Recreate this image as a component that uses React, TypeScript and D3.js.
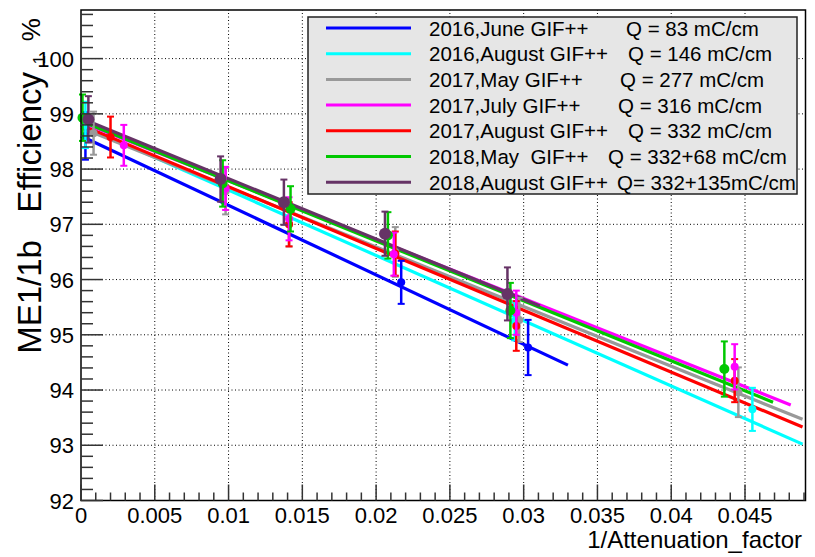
import React from "react";
import { scaleLinear, line, range } from "d3";

// series names and charges (legend)
const seriesNames = [
  "2016,June GIF++",
  "2016,August GIF++",
  "2017,May GIF++",
  "2017,July GIF++",
  "2017,August GIF++",
  "2018,May  GIF++",
  "2018,August GIF++",
];
const seriesCharges = [
  "Q = 83 mC/cm",
  "Q = 146 mC/cm",
  "Q = 277 mC/cm",
  "Q = 316 mC/cm",
  "Q = 332 mC/cm",
  "Q = 332+68 mC/cm",
  "Q= 332+135mC/cm",
];

// measured points: [1/attenuation, efficiency, error]
const june2016 = [[0.0003, 98.6, 0.43], [0.0217, 95.95, 0.39], [0.0303, 94.77, 0.5]];
const aug2016 = [[0.0003, 98.8, 0.42], [0.0294, 95.25, 0.35], [0.0455, 93.65, 0.39]];
const may2017 = [[0.00085, 98.65, 0.39], [0.0098, 97.6, 0.42], [0.0141, 97.0, 0.4], [0.0213, 96.5, 0.45], [0.0297, 95.27, 0.4], [0.04455, 93.96, 0.45]];
const july2017 = [[0.0029, 98.43, 0.37], [0.0098, 97.65, 0.39], [0.0141, 97.1, 0.39], [0.0212, 96.46, 0.39], [0.0295, 95.4, 0.4], [0.0443, 94.42, 0.41]];
const aug2017 = [[0.002, 98.58, 0.37], [0.0141, 97.0, 0.4], [0.0213, 96.47, 0.4], [0.0295, 95.16, 0.45], [0.0443, 94.17, 0.39]];
const may2018 = [[0.0001, 98.93, 0.42], [0.0096, 97.74, 0.42], [0.0142, 97.28, 0.41], [0.0208, 96.8, 0.42], [0.0291, 95.44, 0.5], [0.0436, 94.38, 0.5]];
const aug2018 = [[0.0005, 98.9, 0.42], [0.00946, 97.82, 0.41], [0.01375, 97.4, 0.41], [0.0206, 96.83, 0.4], [0.0289, 95.74, 0.48]];

// linear fits: [x0, y0, x1, y1]
const fitJune2016 = [0, 98.6, 0.033, 94.45];
const fitAug2016 = [0, 98.8, 0.0489, 93.02];
const fitMay2017 = [0, 98.75, 0.0489, 93.47];
const fitJuly2017 = [0, 98.85, 0.0481, 93.73];
const fitAug2017 = [0, 98.8, 0.0489, 93.33];
const fitMay2018 = [0, 98.87, 0.0469, 93.78];
const fitAug2018 = [0, 98.92, 0.0311, 95.52];

const xTicks = [0, 0.005, 0.01, 0.015, 0.02, 0.025, 0.03, 0.035, 0.04, 0.045];
const xTickLabels = ["0", "0.005", "0.01", "0.015", "0.02", "0.025", "0.03", "0.035", "0.04", "0.045"];
const yTicks = [92, 93, 94, 95, 96, 97, 98, 99, 100];

const colors = ["#0000ff", "#00ffff", "#999999", "#ff00ff", "#ff0000", "#00c800", "#663366"];
const markerR = [4, 4, 4, 4, 4, 5, 6];
const qX = [626, 628, 620, 618, 628, 608, 617];

const points = [june2016, aug2016, may2017, july2017, aug2017, may2018, aug2018];
const fits = [fitJune2016, fitAug2016, fitMay2017, fitJuly2017, fitAug2017, fitMay2018, fitAug2018];

const W = 815, H = 557;
const L = 81, R = 805.5, T = 10, B = 500.5;
const font = "'Liberation Sans', Arial, Helvetica, sans-serif";

export default function App() {
  const x = scaleLinear().domain([0, 0.0491]).range([L, R]);
  const y = scaleLinear().domain([92, 100.88]).range([B, T]);
  const fitLine = line<number[]>().x((d) => x(d[0])).y((d) => y(d[1]));

  const xMinor = range(0, 0.0491, 0.001);
  const yMinor = range(92, 100.88, 0.2);

  // draw order: purple on top
  const order = [0, 1, 2, 4, 3, 5, 6];

  return (
    <svg width={W} height={H} style={{ position: "absolute", left: 0, top: 0, background: "#fff" }} fontFamily={font}>
      <rect x={0} y={0} width={W} height={H} fill="#fff" />
      {/* grid */}
      <g stroke="#000" strokeWidth={1} strokeDasharray="1 2.5">
        {xTicks.slice(1).map((t) => (
          <line key={"gx" + t} x1={x(t)} x2={x(t)} y1={B} y2={T} />
        ))}
        {yTicks.slice(1).map((t) => (
          <line key={"gy" + t} x1={L} x2={R} y1={y(t)} y2={y(t)} />
        ))}
      </g>

      {/* fits */}
      {order.map((i) => {
        const f = fits[i];
        return (
          <path key={"f" + i} d={fitLine([[f[0], f[1]], [f[2], f[3]]]) || ""}
            stroke={colors[i]} strokeWidth={3.2} fill="none" />
        );
      })}

      {/* points with error bars */}
      {order.map((i) => (
        <g key={"p" + i} stroke={colors[i]} fill={colors[i]}>
          {points[i].map((d, k) => {
            const px = x(d[0]);
            return (
              <g key={k}>
                <line x1={px} x2={px} y1={y(d[1] + d[2])} y2={y(d[1] - d[2])} strokeWidth={2.5} />
                <line x1={px - 3.5} x2={px + 3.5} y1={y(d[1] + d[2])} y2={y(d[1] + d[2])} strokeWidth={2} />
                <line x1={px - 3.5} x2={px + 3.5} y1={y(d[1] - d[2])} y2={y(d[1] - d[2])} strokeWidth={2} />
                <circle cx={px} cy={y(d[1])} r={markerR[i]} stroke="none" />
              </g>
            );
          })}
        </g>
      ))}

      {/* frame */}
      <rect x={L} y={T} width={R - L} height={B - T} fill="none" stroke="#000" strokeWidth={1.5} />

      {/* ticks */}
      <g stroke="#333" strokeWidth={1.5}>
        {xMinor.map((t, k) => {
          const major = k % 5 === 0;
          return <line key={"xt" + k} x1={x(t)} x2={x(t)} y1={B} y2={B - (major ? 16 : 8)} />;
        })}
        {yMinor.map((t, k) => {
          const major = k % 5 === 0;
          return <line key={"yt" + k} x1={L} x2={L + (major ? 22 : 12)} y1={y(t)} y2={y(t)} />;
        })}
      </g>

      {/* tick labels */}
      <g fontSize={22} fill="#000">
        {xTicks.map((t, k) => (
          <text key={"xl" + t} x={x(t)} y={523} textAnchor="middle">{xTickLabels[k]}</text>
        ))}
        {yTicks.map((t) => (
          <text key={"yl" + t} x={74} y={y(t) + 8} textAnchor="end">{t}</text>
        ))}
      </g>

      {/* axis titles */}
      <text x={802} y={548} textAnchor="end" fontSize={24}>1/Attenuation_factor</text>
      <text transform="translate(41,72) rotate(-90)" textAnchor="end" fontSize={33} style={{ whiteSpace: "pre" }}>
        {"ME1/1b   Efficiency"}
      </text>
      <text transform="translate(45,55) rotate(-90)" textAnchor="end" fontSize={17}>1</text>
      <text transform="translate(40,18) rotate(-90)" textAnchor="end" fontSize={26}>%</text>

      {/* legend */}
      <rect x={308} y={17} width={489} height={177} fill="#e6e6e6" stroke="#222" strokeWidth={1.5} />
      {seriesNames.map((n, i) => {
        const cy = 28 + i * 25.7;
        return (
          <g key={"lg" + i}>
            <line x1={326} x2={411} y1={cy} y2={cy} stroke={colors[i]} strokeWidth={3} />
            <text x={429} y={cy + 7.5} fontSize={20.5} style={{ whiteSpace: "pre" }}>{n}</text>
            <text x={qX[i]} y={cy + 7.5} fontSize={20.5}>{seriesCharges[i]}</text>
          </g>
        );
      })}
    </svg>
  );
}
